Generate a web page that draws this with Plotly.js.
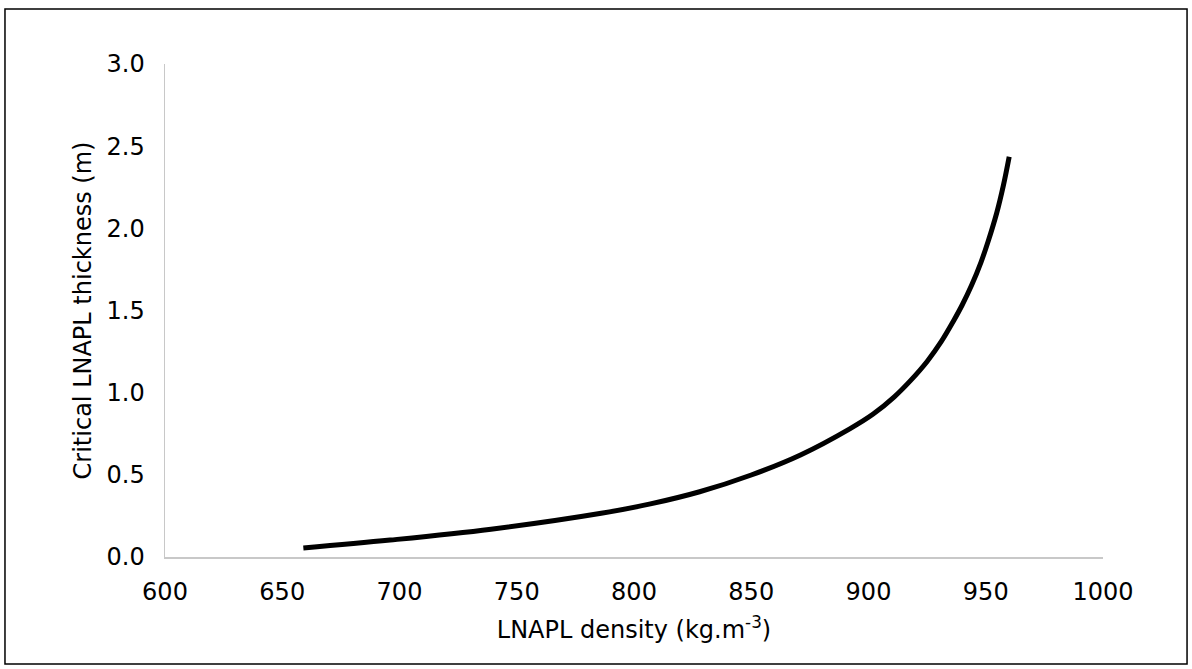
<!DOCTYPE html>
<html>
<head>
<meta charset="utf-8">
<script src="https://cdn.plot.ly/plotly-3.0.1.min.js"></script>
<style>
  html, body { margin: 0; padding: 0; background: #fff; }
  #chart { width: 1192px; height: 669px; }
</style>
</head>
<body>
<div id="chart"></div>
<script>
// LNAPL density (kg/m3)
var density = [659, 696, 739, 786, 807, 828, 850, 871, 892, 902, 911, 918, 925, 931, 936, 940, 944, 948, 951, 954.7, 957.5, 960];
// Critical LNAPL thickness (m)
var thickness = [0.055, 0.103, 0.169, 0.266, 0.323, 0.397, 0.499, 0.621, 0.78, 0.87, 0.975, 1.075, 1.19, 1.31, 1.43, 1.535, 1.655, 1.795, 1.92, 2.095, 2.26, 2.436];

var xTicks = [600, 650, 700, 750, 800, 850, 900, 950, 1000];
var yTicks = [0, 0.5, 1.0, 1.5, 2.0, 2.5, 3.0];
var yTickText = ['0.0', '0.5', '1.0', '1.5', '2.0', '2.5', '3.0'];

var font = 'DejaVu Sans, Verdana, sans-serif';

var trace = {
  x: density,
  y: thickness,
  type: 'scatter',
  mode: 'lines',
  line: { color: '#000000', width: 5, shape: 'spline', smoothing: 1 },
  hoverinfo: 'x+y'
};

var layout = {
  width: 1192,
  height: 669,
  margin: { l: 165, r: 89, t: 64, b: 112 },
  paper_bgcolor: '#ffffff',
  plot_bgcolor: '#ffffff',
  showlegend: false,
  font: { family: font, size: 24, color: '#000000' },
  xaxis: {
    range: [600, 1000],
    tickvals: xTicks,
    ticktext: xTicks.map(String),
    showgrid: false,
    zeroline: false,
    showline: true,
    linecolor: '#c8c8c8',
    linewidth: 1.5,
    ticks: '',
    ticklabelstandoff: 13,
    tickfont: { family: font, size: 24, color: '#000000' },
    title: { text: 'LNAPL density (kg.m<sup>-3</sup>)', font: { family: font, size: 24, color: '#000000' }, standoff: 16 }
  },
  yaxis: {
    range: [0, 3.0],
    tickvals: yTicks,
    ticktext: yTickText,
    showgrid: false,
    zeroline: false,
    showline: true,
    linecolor: '#c8c8c8',
    linewidth: 1.5,
    ticks: '',
    ticklabelstandoff: 14,
    tickfont: { family: font, size: 24, color: '#000000' },
    title: { text: 'Critical LNAPL thickness (m)', font: { family: font, size: 24, color: '#000000' }, standoff: 8 }
  },
  shapes: [{
    type: 'rect',
    xref: 'paper', yref: 'paper',
    x0: -0.1706, x1: 1.0896,
    y0: -0.2170, y1: 1.1116,
    line: { color: '#000000', width: 1.5 },
    fillcolor: 'rgba(0,0,0,0)',
    layer: 'below'
  }]
};

Plotly.newPlot('chart', [trace], layout, { displayModeBar: false, staticPlot: true });
</script>
</body>
</html>
